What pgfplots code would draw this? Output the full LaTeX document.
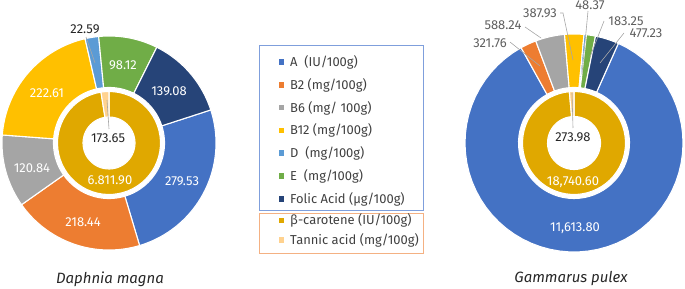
\documentclass[border=0pt]{standalone}
\usepackage{pgfplots}
\pgfplotsset{compat=1.18}
\usepackage{fontspec}
\setmainfont{Fira Sans}
\definecolor{cA}{HTML}{4472C4}
\definecolor{cB2}{HTML}{ED7D31}
\definecolor{cB6}{HTML}{A5A5A5}
\definecolor{cB12}{HTML}{FFC000}
\definecolor{cD}{HTML}{5B9BD5}
\definecolor{cE}{HTML}{70AD47}
\definecolor{cF}{HTML}{264478}
\definecolor{cBeta}{HTML}{E0A800}
\definecolor{cTan}{HTML}{FFD28F}
\definecolor{boxblue}{HTML}{7F9FDC}
\definecolor{boxorange}{HTML}{F4B183}
\definecolor{txt}{HTML}{404040}
\definecolor{dark}{HTML}{262626}
\definecolor{lead}{HTML}{A6A6A6}
\definecolor{outlab}{HTML}{5F5F5F}

% position in picture pixels, measured from the top
\newcommand\PP[2]{(axis cs:#1,{289-(#2)})}
% one ring slice: color, start angle, end angle, cx, cy (from top), R, r, extra options
\newcommand\slice[8]{%
  \addplot[fill=#1, draw=white, line width=1.1bp, domain=0:2, samples=121, variable=\u, #8]
  ({(#4)+(((\u<=1.005)?(#6):(#7)))*cos(((\u<=1.005)?((#2)+((#3)-(#2))*min(\u,1)):(((\u<=1.05)?(#3):((#3)-((#3)-(#2))*(\u-1.05)/0.95)))))},
   {289-(#5)+(((\u<=1.005)?(#6):(#7)))*sin(((\u<=1.005)?((#2)+((#3)-(#2))*min(\u,1)):(((\u<=1.05)?(#3):((#3)-((#3)-(#2))*(\u-1.05)/0.95)))))}) -- cycle;
}
% a ring: cx, cy, R, r, start angle, extra options, list value/color
\newcommand\donut[7]{%
  \xdef\tot{0}%
  \foreach \v/\c in {#7}{\xdef\tot{\fpeval{\tot+\v}}}%
  \xdef\cur{#5}%
  \foreach \v/\c in {#7}{%
    \xdef\nxt{\fpeval{\cur-360*\v/\tot}}%
    \edef\doit{\noexpand\slice{\c}{\cur}{\nxt}{#1}{#2}{#3}{#4}{#6}}\doit
    \xdef\cur{\nxt}%
  }%
}
% legend row: y (from top), colour, text
\newcommand\legrow[3]{%
  \fill[#2] \PP{278.5}{#1-2.75} rectangle \PP{284}{#1+2.75};
  \node[anchor=base west, inner sep=0pt, font=\fontsize{13}{15}\selectfont, text=txt] at \PP{290}{#1+4.5} {#3};
}
\pgfplotsset{
  canvas/.style={at={(0,0)}, anchor=south west, scale only axis, width=685bp, height=289bp,
    xmin=0, xmax=685, ymin=0, ymax=289, hide axis, clip=false},
}
\tikzset{lab/.style={font=\fontsize{13}{15}\selectfont, inner sep=0pt},
  ld/.style={draw=lead, line width=0.6bp}}
\begin{document}
\begin{tikzpicture}
\useasboundingbox (0,0) rectangle (685bp,289bp);
\begin{axis}[canvas]
% ---------------- Daphnia magna ----------------
\donut{109}{143}{107}{55.5}{18}{}{279.53/cA, 218.44/cB2, 120.84/cB6, 222.61/cB12, 22.59/cD, 98.12/cE, 139.08/cF}
\donut{109}{143}{51.5}{26}{90}{}{6811.90/cBeta, 173.65/cTan}
\node[lab, white] at \PP{182}{181} {279.53};
\node[lab, white] at \PP{83}{222} {218.44};
\node[lab, white] at \PP{32}{168} {120.84};
\node[lab, white] at \PP{47}{93} {222.61};
\node[lab, white] at \PP{123}{65} {98.12};
\node[lab, white] at \PP{169}{91} {139.08};
\node[lab, white] at \PP{110}{180} {6.811.90};
\draw[ld] \PP{86}{37} -- \PP{95}{63};
\node[lab, text=dark] at \PP{85}{29} {22.59};
\draw[ld] \PP{107}{100} -- \PP{109}{129};
\node[lab, text=dark] at \PP{108}{138} {173.65};
\node[font=\itshape\fontsize{15}{17}\selectfont, text=dark] at \PP{110}{279} {Daphnia magna};
% ---------------- legend ----------------
\draw[boxblue, line width=0.9bp] \PP{259}{45} rectangle \PP{423}{210};
\draw[boxorange, line width=0.9bp] \PP{259}{213} rectangle \PP{423}{253};
\legrow{62}{cA}{A\ \ (IU/100g)}
\legrow{84.8}{cB2}{B2 (mg/100g)}
\legrow{107.6}{cB6}{B6 (mg/ 100g)}
\legrow{130.4}{cB12}{B12 (mg/100g)}
\legrow{153.2}{cD}{D\ \ (mg/100g)}
\legrow{176}{cE}{E\ \ (mg/100g)}
\legrow{198.8}{cF}{Folic Acid (µg/100g)}
\legrow{220.5}{cBeta}{β-carotene (IU/100g)}
\legrow{240}{cTan}{Tannic acid (mg/100g)}
% ---------------- Gammarus pulex ----------------
\donut{574}{143}{109}{55.5}{66}{}{11613.80/cA, 321.76/cB2, 588.24/cB6, 387.93/cB12, 48.37/cD, 183.25/cE, 477.23/cF}
\donut{574}{143}{51.5}{26.5}{90}{}{18740.60/cBeta, 273.98/cTan}
\node[lab, white] at \PP{575}{228} {11,613.80};
\node[lab, white] at \PP{573}{182} {18,740.60};
\draw[ld] \PP{572}{93} -- \PP{573}{128};
\node[lab, text=dark] at \PP{573}{137} {273.98};
\draw[ld] \PP{510}{42} -- \PP{540}{66};
\node[lab, text=outlab] at \PP{490}{43} {321.76};
\draw[ld] \PP{525}{27} -- \PP{541}{38};
\node[lab, text=outlab] at \PP{503}{25} {588.24};
\draw[ld] \PP{560}{13} -- \PP{563}{13} -- \PP{573}{60};
\node[lab, text=outlab] at \PP{540}{13} {387.93};
\draw[ld] \PP{588}{11} -- \PP{582}{74};
\node[lab, text=outlab] at \PP{590}{5} {48.37};
\draw[ld] \PP{604}{21} -- \PP{590}{57};
\node[lab, text=outlab] at \PP{626}{21} {183.25};
\draw[ld] \PP{624}{33} -- \PP{600}{63};
\node[lab, text=outlab] at \PP{646}{33} {477.23};
\node[font=\itshape\fontsize{15}{17}\selectfont, text=dark] at \PP{571}{279} {Gammarus pulex};
\end{axis}
\end{tikzpicture}
\end{document}
